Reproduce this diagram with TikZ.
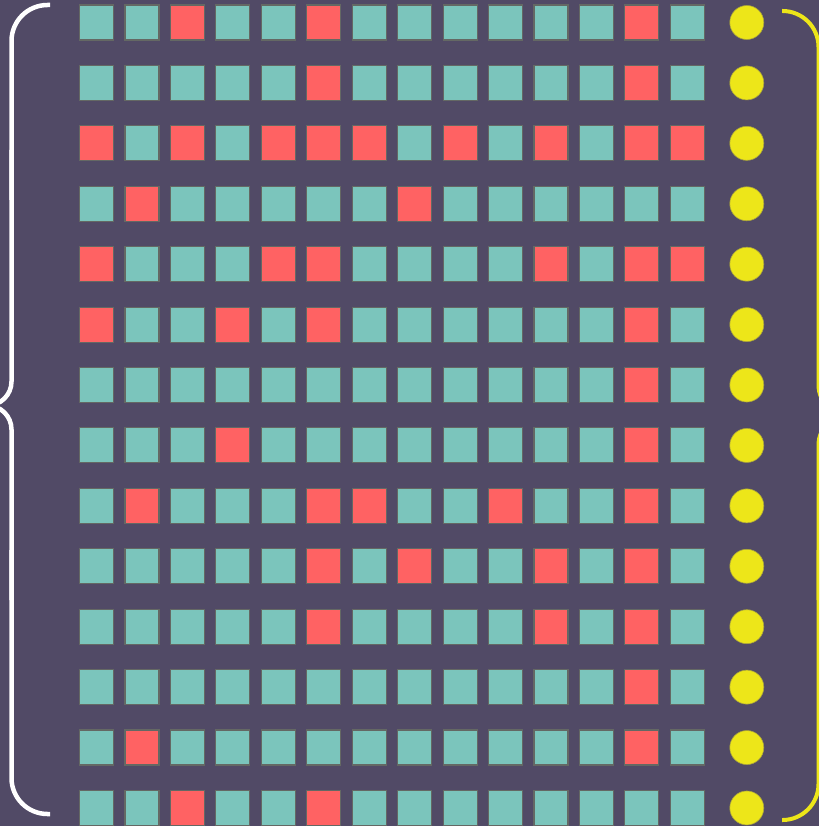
\documentclass[tikz,border=0pt]{standalone}
\definecolor{bg}{RGB}{81,74,102}
\definecolor{c0}{RGB}{123,197,188}
\definecolor{c1}{RGB}{255,98,99}
\definecolor{dotc}{RGB}{237,230,25}
\definecolor{edgec}{RGB}{100,104,100}
\definecolor{dotedge}{RGB}{170,165,60}
\tikzset{
  cell/.style={draw=edgec, line width=1.1pt, minimum width=34pt, minimum height=35pt, inner sep=0pt, outer sep=0pt},
  dot/.style={circle, fill=dotc, draw=dotedge, line width=0.6pt, minimum size=34pt, inner sep=0pt},
  lbrace/.style={draw=white, line width=4.5pt},
  rbrace/.style={draw=dotc, line width=4pt}
}
\begin{document}
\begin{tikzpicture}[x=1pt, y=-1pt]
\useasboundingbox (0,0) rectangle (819,826);
\fill[bg] (0,0) rectangle (819,826);
\begin{scope}
\clip (0,0) rectangle (819,826);
\foreach \r/\pat in {
  1/{0,0,1,0,0,1,0,0,0,0,0,0,1,0},
  2/{0,0,0,0,0,1,0,0,0,0,0,0,1,0},
  3/{1,0,1,0,1,1,1,0,1,0,1,0,1,1},
  4/{0,1,0,0,0,0,0,1,0,0,0,0,0,0},
  5/{1,0,0,0,1,1,0,0,0,0,1,0,1,1},
  6/{1,0,0,1,0,1,0,0,0,0,0,0,1,0},
  7/{0,0,0,0,0,0,0,0,0,0,0,0,1,0},
  8/{0,0,0,1,0,0,0,0,0,0,0,0,1,0},
  9/{0,1,0,0,0,1,1,0,0,1,0,0,1,0},
  10/{0,0,0,0,0,1,0,1,0,0,1,0,1,0},
  11/{0,0,0,0,0,1,0,0,0,0,1,0,1,0},
  12/{0,0,0,0,0,0,0,0,0,0,0,0,1,0},
  13/{0,1,0,0,0,0,0,0,0,0,0,0,1,0},
  14/{0,0,1,0,0,1,0,0,0,0,0,0,0,0}} {
  \foreach \v [count=\c] in \pat {
    \node[cell, fill=c\v] (s-\r-\c) at ({96.5+45.45*(\c-1)}, {22.5+60.42*(\r-1)}) {};
  }
  \node[dot] (d-\r) at (746.8, {22.5+60.42*(\r-1)}) {};
}
% left brace
\coordinate (ltip) at (-13,405.5);
\draw[lbrace, rounded corners=36pt] (50,5) -- (11.5,5) -- (11.5,200);
\draw[lbrace, rounded corners=24pt] (11.5,150) -- (11.5,405.5) -- (ltip);
\draw[lbrace, rounded corners=24pt] (ltip) -- (11.5,405.5) -- (11.5,600);
\draw[lbrace, rounded corners=36pt] (11.5,550) -- (11.5,814) -- (50,814);
% right brace
\coordinate (rtip) at (850,415);
\draw[rbrace, rounded corners=36pt] (782,11) -- (818.5,11) -- (818.5,200);
\draw[rbrace, rounded corners=30pt] (818.5,150) -- (818.5,415) -- (rtip);
\draw[rbrace, rounded corners=30pt] (rtip) -- (818.5,415) -- (818.5,600);
\draw[rbrace, rounded corners=36pt] (818.5,550) -- (818.5,820) -- (782,820);
\end{scope}
\end{tikzpicture}
\end{document}
